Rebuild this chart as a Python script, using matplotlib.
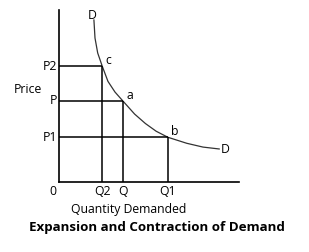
import matplotlib.pyplot as plt

# quantities and prices
q_pts = [2.4, 3.55, 6.05]          # Q2, Q, Q1
p_pts = [6.74, 4.71, 2.6]          # P2, P, P1
q_labels = ["Q2", "Q", "Q1"]
p_labels = ["P2", "P", "P1"]
pt_names = ["c", "a", "b"]

# demand curve D
curve_q = [1.94, 2.0, 2.15, 2.4, 2.72, 3.11, 3.55, 4.2, 4.8, 5.4, 6.05, 7.1, 8.0, 8.9]
curve_p = [9.42, 8.37, 7.5, 6.74, 5.85, 5.23, 4.71, 3.95, 3.4, 2.95, 2.6, 2.25, 2.03, 1.92]

plt.rcParams['font.family'] = ['Open Sans', 'DejaVu Sans']

fig = plt.figure(figsize=(3.09, 2.52), dpi=100)
ax = fig.add_axes([59 / 309, 70 / 252, 180 / 309, 172 / 252])
ax.set_xlim(0, 10)
ax.set_ylim(0, 10)
ax.spines['top'].set_visible(False)
ax.spines['right'].set_visible(False)
for s in ['left', 'bottom']:
    ax.spines[s].set_linewidth(1.2)
ax.set_xticks([])
ax.set_yticks([])
ax.patch.set_alpha(0)

ax.plot(curve_q, curve_p, color='#333333', lw=0.9)

for q, p in zip(q_pts, p_pts):
    ax.plot([0, q], [p, p], color='black', lw=1.1, solid_capstyle='butt')
    ax.plot([q, q], [0, p], color='black', lw=1.1, solid_capstyle='butt')

fs = 8.8
for q, lab in zip(q_pts, q_labels):
    ax.text(q, -0.55, lab, ha='center', va='center', fontsize=fs)
for p, lab in zip(p_pts, p_labels):
    ax.text(-0.1, p, lab, ha='right', va='center', fontsize=fs)
for q, p, n in zip(q_pts, p_pts, pt_names):
    ax.text(q + 0.2, p - 0.05, n, ha='left', va='bottom', fontsize=fs)

ax.text(-0.35, -0.55, "0", ha='center', va='center', fontsize=fs)
ax.text(-1.75, 5.35, "Price", ha='center', va='center', fontsize=fs)
ax.text(curve_q[0] - 0.1, curve_p[0] - 0.1, "D", ha='center', va='bottom', fontsize=fs)
ax.text(curve_q[-1] + 0.1, curve_p[-1] - 0.05, "D", ha='left', va='center', fontsize=fs)

fig.text(129 / 309, 1 - 209 / 252, "Quantity Demanded", ha='center', va='center', fontsize=fs)
fig.text(157 / 309, 1 - 228 / 252, "Expansion and Contraction of Demand",
         ha='center', va='center', fontsize=9.6, fontweight='bold')

fig.savefig("out.png", dpi=100)
